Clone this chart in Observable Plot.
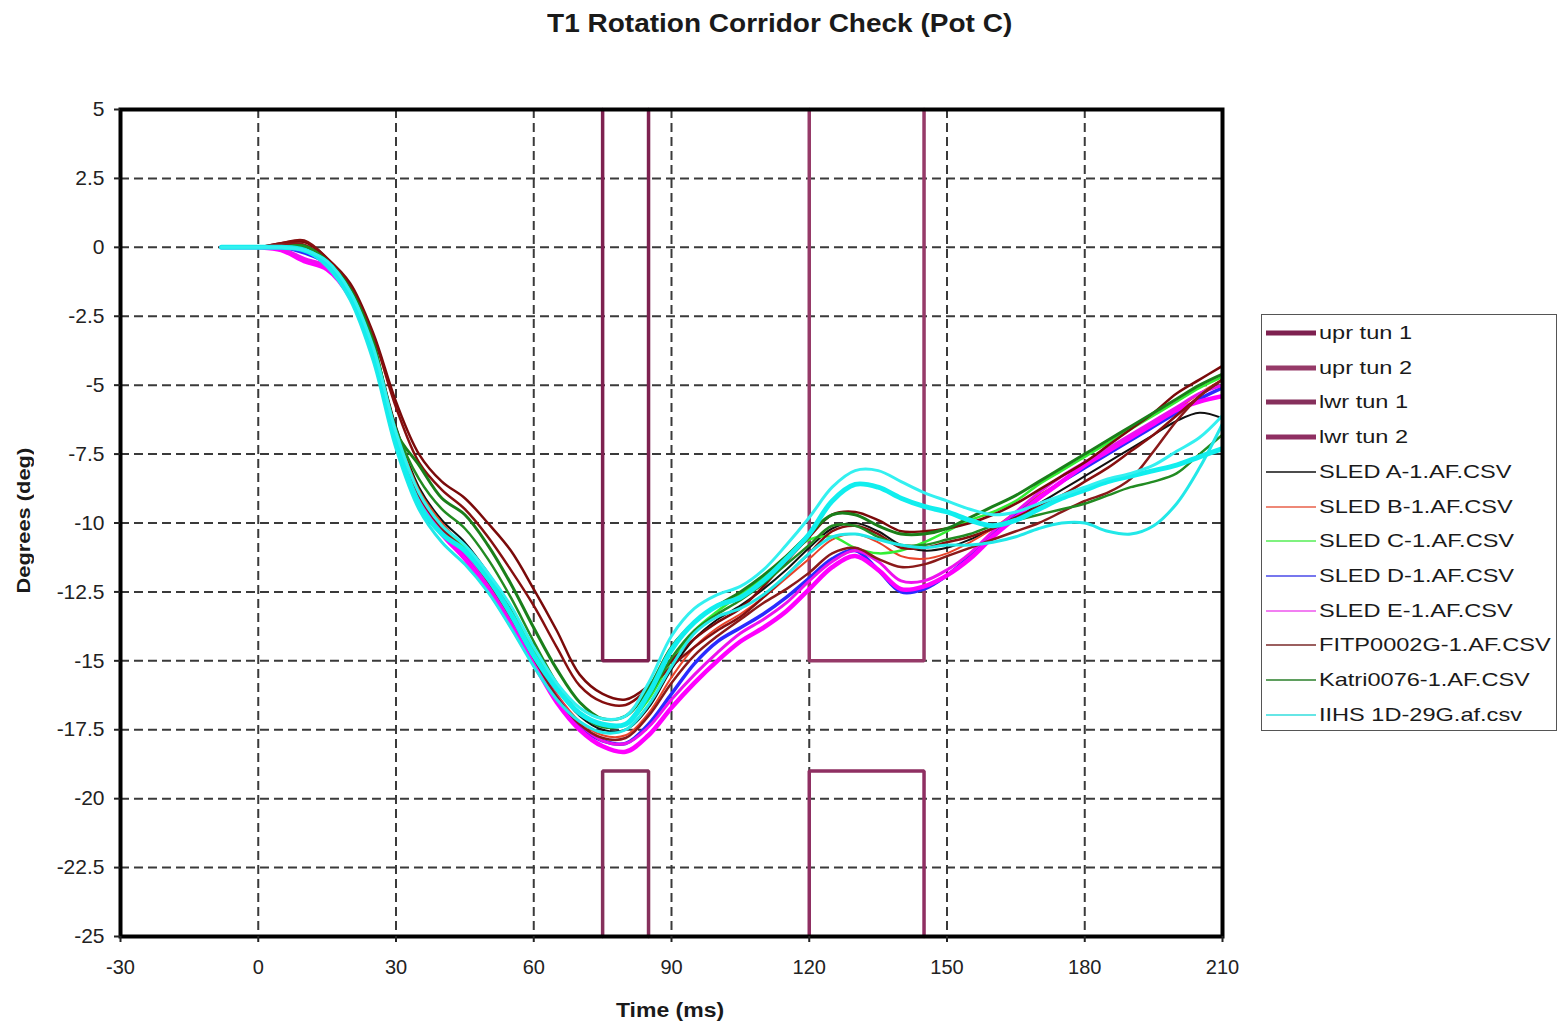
<!DOCTYPE html>
<html>
<head>
<meta charset="utf-8">
<script src="https://cdn.jsdelivr.net/npm/d3@7"></script>
<script src="https://cdn.jsdelivr.net/npm/@observablehq/plot@0.6"></script>
<style>
  html, body { margin: 0; padding: 0; background: #fff; }
  #wrap { position: relative; width: 1559px; height: 1026px; font-family: 'Liberation Sans', Arial, sans-serif; color: #1a1a1a; }
  #chart { position: absolute; left: 0; top: 0; }
  .ov { position: absolute; white-space: nowrap; }
  #legend { position: absolute; left: 1261px; top: 314px; width: 294px; height: 415px; border: 1.5px solid #555; background: #fff; }
  .lg { position: absolute; left: 0; height: 24px; line-height: 24px; font-size: 19px; white-space: nowrap; }
  .lg svg { position: absolute; left: 4px; top: 0; }
  .lg span { position: absolute; left: 57px; top: 0; display: inline-block; transform: scaleX(1.24); transform-origin: left center; }
</style>
</head>
<body>
<div id="wrap">
  <div id="chart"></div>
  <div class="ov" id="title" style="left:0;width:1559px;top:9px;text-align:center;font-weight:bold;font-size:25px;"><span style="display:inline-block;transform:scaleX(1.12)">T1 Rotation Corridor Check (Pot C)</span></div>
  <div class="ov" id="xlabel" style="left:470px;width:400px;top:999px;text-align:center;font-weight:bold;font-size:20px;"><span style="display:inline-block;transform:scaleX(1.15)">Time (ms)</span></div>
  <div class="ov" id="ylabel" style="left:-176px;width:400px;top:510px;text-align:center;font-weight:bold;font-size:19px;transform:rotate(-90deg);"><span style="display:inline-block;transform:scaleX(1.15)">Degrees (deg)</span></div>
  <div id="legend"></div>
</div>
<script>
// ---------- axis ticks ----------
const xTicks = [-30, 0, 30, 60, 90, 120, 150, 180, 210];
const yTicks = [5, 2.5, 0, -2.5, -5, -7.5, -10, -12.5, -15, -17.5, -20, -22.5, -25];

// ---------- corridor boxes ----------
const uprTun1T = [75, 75, 85, 85];
const uprTun1V = [5, -15, -15, 5];
const uprTun2T = [120, 120, 145, 145];
const uprTun2V = [5, -15, -15, 5];
const lwrTun1T = [75, 75, 85, 85];
const lwrTun1V = [-25, -19, -19, -25];
const lwrTun2T = [120, 120, 145, 145];
const lwrTun2V = [-25, -19, -19, -25];

// ---------- sample times (ms) ----------
const time = [-8, -5, 0, 5, 10, 15, 20, 25, 30, 35, 40, 45, 50, 55, 60, 65, 70, 75, 80, 85,
  90, 95, 100, 105, 110, 115, 120, 125, 130, 135, 140, 145, 150, 155, 160, 165, 170, 175, 180,
  185, 190, 195, 200, 205, 210];

// ---------- series values (deg) ----------
const sledA = [0,0,0,0.1,0.2,-0.4,-1.5,-3.5,-6.5,-8.7,-9.9,-10.7,-11.8,-13.1,-14.6,-16.0,-17.0,-17.5,-17.5,-16.7,-15.3,-14.2,-13.5,-13.0,-12.4,-11.7,-10.9,-10.2,-10.0,-10.3,-10.8,-11.0,-10.9,-10.6,-10.2,-9.8,-9.3,-8.8,-8.3,-7.8,-7.3,-6.8,-6.3,-6.0,-6.2];
const sledB = [0,0,0,0.1,0.1,-0.5,-1.6,-3.6,-6.6,-8.8,-10.0,-10.9,-12.0,-13.3,-14.8,-16.2,-17.2,-17.7,-17.7,-16.9,-15.6,-14.5,-13.8,-13.3,-12.7,-12.0,-11.3,-10.6,-10.4,-10.7,-11.2,-11.3,-11.1,-10.7,-10.2,-9.6,-9.0,-8.5,-8.0,-7.5,-7.0,-6.5,-5.9,-5.3,-4.8];
const sledC = [0,0,0,0,-0.1,-0.5,-1.6,-3.6,-6.7,-8.9,-10.1,-10.9,-11.9,-13.2,-14.6,-15.9,-16.9,-17.3,-17.3,-16.4,-15.0,-13.9,-13.2,-12.6,-12.0,-11.3,-10.6,-10.5,-10.9,-11.1,-11.0,-10.7,-10.3,-9.9,-9.6,-9.2,-8.6,-8.1,-7.6,-7.1,-6.6,-6.1,-5.6,-5.1,-4.7];
const sledD = [0,0,0,0,-0.2,-0.6,-1.7,-3.8,-6.9,-9.1,-10.3,-11.2,-12.3,-13.6,-15.0,-16.4,-17.4,-17.9,-18.0,-17.3,-16.2,-15.1,-14.3,-13.8,-13.3,-12.7,-12.0,-11.3,-11.0,-11.7,-12.5,-12.4,-11.9,-11.2,-10.4,-9.7,-9.1,-8.5,-8.0,-7.5,-7.0,-6.5,-6.0,-5.5,-5.1];
const sledE1 = [0,0,0,-0.1,-0.5,-0.8,-1.8,-3.9,-7.0,-9.2,-10.4,-11.3,-12.4,-13.7,-15.1,-16.5,-17.5,-18.1,-18.3,-17.7,-16.7,-15.8,-15.0,-14.3,-13.8,-13.2,-12.4,-11.6,-11.2,-11.7,-12.4,-12.3,-11.9,-11.3,-10.5,-9.8,-9.1,-8.5,-7.9,-7.4,-6.9,-6.4,-5.9,-5.6,-5.4];
const sledE2 = [0,0,0,-0.05,-0.4,-0.7,-1.7,-3.8,-6.9,-9.1,-10.3,-11.1,-12.2,-13.5,-14.9,-16.3,-17.3,-17.9,-18.0,-17.4,-16.4,-15.5,-14.7,-14.0,-13.5,-12.9,-12.1,-11.4,-11.0,-11.4,-12.1,-12.1,-11.7,-11.1,-10.3,-9.6,-8.9,-8.3,-7.8,-7.3,-6.8,-6.3,-5.8,-5.3,-5.0];
const fitp1 = [0,0,0,0.15,0.2,-0.4,-1.3,-3.1,-5.6,-7.5,-8.5,-9.1,-10.0,-11.0,-12.4,-13.9,-15.5,-16.2,-16.4,-15.9,-15.0,-14.2,-13.6,-13.1,-12.3,-11.4,-10.5,-9.7,-9.6,-9.9,-10.3,-10.3,-10.2,-10.0,-9.7,-9.3,-8.8,-8.3,-7.8,-7.2,-6.6,-6.0,-5.3,-4.8,-4.3];
const fitp2 = [0,0,0,0.15,0.25,-0.4,-1.4,-3.2,-5.8,-7.8,-8.8,-9.5,-10.5,-11.7,-13.0,-14.5,-15.9,-16.5,-16.6,-16.0,-15.2,-14.5,-13.9,-13.4,-12.7,-11.9,-11.1,-10.3,-10.1,-10.4,-10.9,-10.9,-10.7,-10.5,-10.2,-9.8,-9.4,-9.0,-8.5,-8.0,-7.4,-6.8,-6.1,-5.4,-4.8];
const fitp3 = [0,0,0,0.1,0.1,-0.5,-1.6,-3.7,-6.8,-9.0,-10.2,-11.0,-12.1,-13.4,-14.9,-16.3,-17.3,-17.8,-17.8,-17.0,-15.8,-14.8,-14.1,-13.5,-12.9,-12.4,-11.8,-11.1,-10.9,-11.3,-11.6,-11.5,-11.2,-10.9,-10.6,-10.3,-10.0,-9.6,-9.2,-8.9,-8.4,-7.4,-6.3,-5.4,-4.8];
const katri1 = [0,0,0,0,0.05,-0.5,-1.5,-3.4,-6.7,-7.9,-9.1,-9.7,-10.8,-12.2,-13.8,-15.3,-16.5,-17.1,-17.0,-16.0,-14.5,-13.6,-13.0,-12.5,-11.9,-11.2,-10.4,-9.7,-9.7,-10.1,-10.4,-10.4,-10.2,-9.8,-9.4,-9.0,-8.5,-8.0,-7.5,-7.0,-6.5,-6.0,-5.5,-5.0,-4.6];
const katri2 = [0,0,0,0,0.05,-0.5,-1.6,-3.5,-6.6,-8.4,-9.5,-10.2,-11.3,-12.7,-14.3,-15.8,-16.9,-17.4,-17.3,-16.3,-14.9,-13.9,-13.3,-12.8,-12.2,-11.5,-10.8,-10.1,-10.1,-10.5,-10.8,-10.8,-10.6,-10.4,-10.1,-9.9,-9.7,-9.5,-9.3,-9.0,-8.7,-8.5,-8.2,-7.5,-6.8];
const iihs1 = [0,0,0,0,-0.1,-0.6,-1.7,-3.8,-7.0,-9.3,-10.4,-11.0,-12.0,-13.3,-14.8,-16.0,-16.9,-17.3,-17.3,-16.2,-14.6,-13.6,-13.0,-12.7,-12.1,-11.3,-10.4,-9.2,-8.6,-8.7,-9.1,-9.4,-9.6,-9.9,-10.1,-9.9,-9.5,-9.1,-8.8,-8.5,-8.3,-8.1,-7.9,-7.6,-7.3];
const iihs2 = [0,0,0,0,-0.1,-0.5,-1.6,-3.6,-6.7,-8.9,-10.1,-10.8,-11.8,-13.0,-14.5,-15.8,-16.7,-17.1,-17.0,-15.8,-14.1,-13.1,-12.6,-12.3,-11.7,-10.8,-9.8,-8.7,-8.1,-8.1,-8.5,-8.9,-9.2,-9.5,-9.7,-9.6,-9.3,-9.0,-8.7,-8.4,-8.2,-7.9,-7.4,-6.9,-6.1];
const iihs3 = [0,0,0,0,-0.1,-0.7,-1.9,-4.1,-7.3,-9.5,-10.7,-11.5,-12.5,-13.8,-15.2,-16.4,-17.2,-17.6,-17.5,-16.6,-15.2,-14.0,-13.4,-13.1,-12.6,-11.9,-11.1,-10.5,-10.4,-10.6,-10.8,-10.9,-10.8,-10.8,-10.7,-10.5,-10.2,-10.0,-10.0,-10.3,-10.4,-10.1,-9.3,-8.0,-6.4];

// ---------- styles (kept separate from data) ----------
const corridorStyles = [
  {t: uprTun1T, v: uprTun1V, color: "#7e2150"},
  {t: uprTun2T, v: uprTun2V, color: "#963a68"},
  {t: lwrTun1T, v: lwrTun1V, color: "#86305c"},
  {t: lwrTun2T, v: lwrTun2V, color: "#8f2f62"}
];
const seriesStyles = [
  {v: sledA, color: "#111111", w: 2},
  {v: sledB, color: "#e8432a", w: 2},
  {v: sledC, color: "#33ee33", w: 2.5},
  {v: sledD, color: "#2a2aff", w: 3.5},
  {v: sledE1, color: "#ff00ff", w: 4.5},
  {v: sledE2, color: "#ee11ee", w: 3},
  {v: fitp1, color: "#7a0a0a", w: 2.5},
  {v: fitp2, color: "#860f0f", w: 2.5},
  {v: fitp3, color: "#8a1a1a", w: 2.5},
  {v: katri1, color: "#1a7f1a", w: 3},
  {v: katri2, color: "#228b22", w: 2.5},
  {v: iihs3, color: "#22e8e8", w: 3},
  {v: iihs1, color: "#11eeee", w: 5},
  {v: iihs2, color: "#33f0f0", w: 3}
];
const legendItems = [
  {name: "upr tun 1", color: "#7e2150", w: 5},
  {name: "upr tun 2", color: "#963a68", w: 5},
  {name: "lwr tun 1", color: "#86305c", w: 5},
  {name: "lwr tun 2", color: "#8f2f62", w: 5},
  {name: "SLED A-1.AF.CSV", color: "#111111", w: 1.5},
  {name: "SLED B-1.AF.CSV", color: "#e8604a", w: 1.5},
  {name: "SLED C-1.AF.CSV", color: "#55ee55", w: 1.5},
  {name: "SLED D-1.AF.CSV", color: "#7777ee", w: 2},
  {name: "SLED E-1.AF.CSV", color: "#ee55ee", w: 1.5},
  {name: "FITP0002G-1.AF.CSV", color: "#7a2a2a", w: 1.5},
  {name: "Katri0076-1.AF.CSV", color: "#2a7f2a", w: 1.5},
  {name: "IIHS 1D-29G.af.csv", color: "#66e6e6", w: 2}
];

const gridStyle = {stroke: "#3a3a3a", strokeOpacity: 1, strokeWidth: 2, strokeDasharray: "9,5"};

const corridorMarks = corridorStyles.map(c =>
  Plot.line(c.t.map((t, i) => ({t, v: c.v[i]})), {x: "t", y: "v", stroke: c.color, strokeWidth: 3.5, strokeLinejoin: "miter"})
);
const seriesMarks = seriesStyles.map(s =>
  Plot.line(time.map((t, i) => ({t, v: s.v[i]})), {x: "t", y: "v", stroke: s.color, strokeWidth: s.w, curve: "catmull-rom", clip: true})
);

const chart = Plot.plot({
  width: 1559,
  height: 1026,
  marginLeft: 120,
  marginRight: 337,
  marginTop: 109,
  marginBottom: 90,
  x: {domain: [-30, 210]},
  y: {domain: [-25, 5]},
  style: {fontFamily: "'Liberation Sans', Arial, sans-serif", fontSize: "19px", color: "#222", background: "transparent", overflow: "visible"},
  marks: [
    Plot.gridX(xTicks.filter(d => d > -30 && d < 210), gridStyle),
    Plot.gridY(yTicks.filter(d => d > -25 && d < 5), gridStyle),
    ...corridorMarks,
    ...seriesMarks,
    Plot.frame({stroke: "#000", strokeWidth: 4}),
    Plot.axisX(xTicks, {tickSize: 6, tickPadding: 17, tickFormat: d => String(d), label: null, fontSize: 20, strokeWidth: 2}),
    Plot.axisY(yTicks, {tickSize: 6, tickPadding: 10, tickFormat: d => String(d), label: null, fontSize: 21, strokeWidth: 2})
  ]
});
document.getElementById("chart").appendChild(chart);

// ---------- legend ----------
const legend = document.getElementById("legend");
legendItems.forEach((it, i) => {
  const row = document.createElement("div");
  row.className = "lg";
  row.style.top = (6 + i * 34.7) + "px";
  row.innerHTML = `<svg width="50" height="24"><line x1="0" y1="12" x2="50" y2="12" stroke="${it.color}" stroke-width="${it.w}"/></svg><span>${it.name}</span>`;
  legend.appendChild(row);
});
</script>
</body>
</html>
